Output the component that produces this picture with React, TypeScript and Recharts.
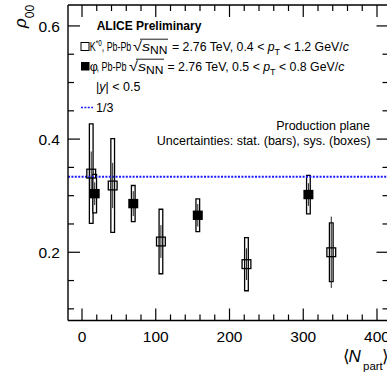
import React from 'react';
import {
  ComposedChart,
  XAxis,
  YAxis,
  Scatter,
  ErrorBar,
  ReferenceLine,
  ReferenceArea,
} from 'recharts';

// ---- data ----
const kstarNpart = [12.5, 41.6, 107, 223, 338];
const kstarRho = [0.339, 0.318, 0.219, 0.179, 0.2];
const kstarStat = [0.039, 0.04, 0.029, 0.028, 0.063];
const kstarSys = [0.088, 0.083, 0.057, 0.047, 0.052];

const phiNpart = [17.2, 69.5, 157, 307];
const phiRho = [0.3036, 0.286, 0.2654, 0.302];
const phiStat = [0.02, 0.022, 0.02, 0.02];
const phiSys = [0.034, 0.032, 0.029, 0.034];

const xTicks = [0, 20, 40, 60, 80, 100, 120, 140, 160, 180, 200, 220, 240, 260, 280, 300, 320, 340, 360, 380, 400];
const xLabels = [0, 100, 200, 300, 400];
const yTicks = [0.1, 0.15, 0.2, 0.25, 0.3, 0.35, 0.4, 0.45, 0.5, 0.55, 0.6];
const yLabels = [0.2, 0.4, 0.6];
const refValue = 1 / 3;

const xDomain: [number, number] = [-19, 415.6];
const yDomain: [number, number] = [0.0794, 0.637];

const kstarData = kstarNpart.map((n, i) => ({ n, rho: kstarRho[i], stat: kstarStat[i], sys: kstarSys[i] }));
const phiData = phiNpart.map((n, i) => ({ n, rho: phiRho[i], stat: phiStat[i], sys: phiSys[i] }));

const FONT = "'Liberation Sans', Arial, Helvetica, sans-serif";
const BOX_HALF = 2.5; // half width of sys boxes in Npart units
const MAJ = 12;
const MIN = 6;

const isMajorX = (v: number) => xLabels.some((l) => Math.abs(l - v) < 1e-6);
const isMajorY = (v: number) => yLabels.some((l) => Math.abs(l - v) < 1e-6);

const BottomTick = (p: any) => {
  const v = p.payload.value;
  const len = isMajorX(v) ? MAJ : MIN;
  return (
    <g>
      <line x1={p.x} x2={p.x} y1={p.y} y2={p.y - len} stroke="#000" strokeWidth={1.2} />
      {isMajorX(v) && (
        <text x={p.x} y={p.y + 21} textAnchor="middle" fontSize={15.5} fontFamily={FONT} fill="#000">
          {v}
        </text>
      )}
    </g>
  );
};

const TopTick = (p: any) => {
  const v = p.payload.value;
  const len = isMajorX(v) ? MAJ : MIN;
  return <line x1={p.x} x2={p.x} y1={p.y} y2={p.y + len} stroke="#000" strokeWidth={1.2} />;
};

const LeftTick = (p: any) => {
  const v = p.payload.value;
  const len = isMajorY(v) ? MAJ : MIN;
  return (
    <g>
      <line x1={p.x} x2={p.x + len} y1={p.y} y2={p.y} stroke="#000" strokeWidth={1.2} />
      {isMajorY(v) && (
        <text x={p.x - 8} y={p.y} dy="0.36em" textAnchor="end" fontSize={15.5} fontFamily={FONT} fill="#000">
          {v.toFixed(1)}
        </text>
      )}
    </g>
  );
};

const RightTick = (p: any) => {
  const v = p.payload.value;
  const len = isMajorY(v) ? MAJ : MIN;
  return <line x1={p.x} x2={p.x - len} y1={p.y} y2={p.y} stroke="#000" strokeWidth={1.2} />;
};

const OpenSquare = (p: any) => (
  <rect x={p.cx - 4.4} y={p.cy - 4.4} width={8.8} height={8.8} fill="none" stroke="#000" strokeWidth={1.3} />
);
const FilledSquare = (p: any) => (
  <rect x={p.cx - 5} y={p.cy - 4.7} width={10} height={9.4} fill="#000" stroke="none" />
);
const NoShape = () => <g />;

const axisLine = { stroke: '#000', strokeWidth: 1.4 };

export default function App() {
  return (
    <div style={{ position: 'absolute', left: 0, top: 0, width: 387, height: 373, overflow: 'hidden', background: '#fff' }}>
      <ComposedChart width={400} height={373} margin={{ top: 4, right: 10.5, left: 0, bottom: 0 }}>
        <XAxis
          xAxisId={0}
          dataKey="n"
          type="number"
          domain={xDomain}
          allowDataOverflow
          ticks={xTicks}
          interval={0}
          height={52.5}
          tickSize={0}
          tickMargin={0}
          tickLine={false}
          axisLine={axisLine}
          tick={<BottomTick />}
        />
        <XAxis
          xAxisId="top"
          orientation="top"
          dataKey="n"
          type="number"
          domain={xDomain}
          allowDataOverflow
          ticks={xTicks}
          interval={0}
          height={1}
          tickSize={0}
          tickMargin={0}
          tickLine={false}
          axisLine={axisLine}
          tick={<TopTick />}
        />
        <YAxis
          yAxisId={0}
          dataKey="rho"
          type="number"
          domain={yDomain}
          allowDataOverflow
          ticks={yTicks}
          interval={0}
          width={68}
          tickSize={0}
          tickMargin={0}
          tickLine={false}
          axisLine={axisLine}
          tick={<LeftTick />}
        />
        <YAxis
          yAxisId="right"
          orientation="right"
          dataKey="rho"
          type="number"
          domain={yDomain}
          allowDataOverflow
          ticks={yTicks}
          interval={0}
          width={1}
          tickSize={0}
          tickMargin={0}
          tickLine={false}
          axisLine={axisLine}
          tick={<RightTick />}
        />
        <ReferenceLine y={refValue} stroke="#1a1aff" strokeWidth={2} strokeDasharray="2 1.4" />
        {kstarData.map((d, i) => (
          <ReferenceArea
            key={'kb' + i}
            x1={d.n - BOX_HALF}
            x2={d.n + BOX_HALF}
            y1={d.rho - d.sys}
            y2={d.rho + d.sys}
            fill="#fff"
            fillOpacity={1}
            stroke="#000"
            strokeWidth={1.3}
          />
        ))}
        {phiData.map((d, i) => (
          <ReferenceArea
            key={'pb' + i}
            x1={d.n - BOX_HALF}
            x2={d.n + BOX_HALF}
            y1={d.rho - d.sys}
            y2={d.rho + d.sys}
            fill="#fff"
            fillOpacity={1}
            stroke="#000"
            strokeWidth={1.3}
          />
        ))}
        <Scatter
          data={kstarData}
          dataKey="rho"
          xAxisId="top"
          yAxisId="right"
          isAnimationActive={false}
          shape={<NoShape />}
        />
        <Scatter data={kstarData} dataKey="rho" isAnimationActive={false} shape={<OpenSquare />}>
          <ErrorBar dataKey="stat" direction="y" width={0} stroke="#222" strokeWidth={1} isAnimationActive={false} />
        </Scatter>
        <Scatter data={phiData} dataKey="rho" isAnimationActive={false} shape={<FilledSquare />}>
          <ErrorBar dataKey="stat" direction="y" width={0} stroke="#222" strokeWidth={1} isAnimationActive={false} />
        </Scatter>
      </ComposedChart>
      <svg
        width={387}
        height={373}
        style={{ position: 'absolute', left: 0, top: 0, pointerEvents: 'none' }}
        fontFamily={FONT}
        fill="#000"
      >
        <g style={{ whiteSpace: 'pre' }}>
          <text x={96.7} y={30} fontSize={12} fontWeight="bold">ALICE Preliminary</text>

          {/* K*0 line */}
          <rect x={81} y={42.5} width={8} height={8} fill="none" stroke="#000" strokeWidth={1} />
          <text x={89.8} y={50.5} fontSize={12.5} textLength={41.5} lengthAdjust="spacingAndGlyphs">
            K
            <tspan fontSize={9} dy={-5}>{'*0'}</tspan>
            <tspan dy={5}>{', Pb-Pb'}</tspan>
          </text>
          <text x={133} y={50.5} fontSize={13.5} textLength={34.5} lengthAdjust="spacingAndGlyphs">
            {'\u221A'}
            <tspan fontStyle="italic">s</tspan>
            <tspan fontSize={10} dy={3}>NN</tspan>
          </text>
          <line x1={140} x2={168} y1={39.2} y2={39.2} stroke="#000" strokeWidth={0.9} />
          <text x={172} y={50.5} fontSize={12.3}>
            {'= 2.76 TeV, 0.4 < '}
            <tspan fontStyle="italic">p</tspan>
            <tspan fontSize={9} dy={4}>T</tspan>
            <tspan dy={-4}>{' < 1.2 GeV/'}</tspan>
            <tspan fontStyle="italic">c</tspan>
          </text>

          {/* phi line */}
          <rect x={81} y={62} width={8.5} height={8.5} fill="#000" />
          <text x={89.8} y={70.5} fontSize={12.5} fill="#000">{'\u03C6'}</text>
          <text x={96.5} y={70.5} fontSize={12.5} textLength={30} lengthAdjust="spacingAndGlyphs">
            {', Pb-Pb'}
          </text>
          <text x={129} y={70.5} fontSize={13.5} textLength={34.5} lengthAdjust="spacingAndGlyphs">
            {'\u221A'}
            <tspan fontStyle="italic">s</tspan>
            <tspan fontSize={10} dy={3}>NN</tspan>
          </text>
          <line x1={136} x2={164} y1={59.2} y2={59.2} stroke="#000" strokeWidth={0.9} />
          <text x={167.5} y={70.5} fontSize={12.3}>
            {'= 2.76 TeV, 0.5 < '}
            <tspan fontStyle="italic">p</tspan>
            <tspan fontSize={9} dy={4}>T</tspan>
            <tspan dy={-4}>{' < 0.8 GeV/'}</tspan>
            <tspan fontStyle="italic">c</tspan>
          </text>

          <text x={96} y={91} fontSize={12.5}>
            <tspan>|</tspan>
            <tspan fontStyle="italic">y</tspan>
            <tspan>{'| < 0.5'}</tspan>
          </text>

          <line x1={81} x2={93} y1={107.5} y2={107.5} stroke="#1a1aff" strokeWidth={1.5} strokeDasharray="2 1.4" />
          <text x={96} y={111.5} fontSize={12.5}>1/3</text>

          <text x={370} y={129.5} fontSize={12.5} textAnchor="end">Production plane</text>
          <text x={370.7} y={145} fontSize={12.5} textAnchor="end">Uncertainties: stat. (bars), sys. (boxes)</text>

          <text transform="translate(26,28) rotate(-90)" fontSize={17} fontStyle="italic">
            {'\u03C1'}
            <tspan fontSize={12} fontStyle="normal" dy={8}>00</tspan>
          </text>

          <text x={342.5} y={361.5} fontSize={17}>{'\u27E8'}</text>
          <text x={348.5} y={361.5} fontSize={17} fontStyle="italic">N</text>
          <text x={363} y={369.5} fontSize={11.5}>part</text>
          <text x={381.5} y={361.5} fontSize={17}>{'\u27E9'}</text>
        </g>
      </svg>
    </div>
  );
}
